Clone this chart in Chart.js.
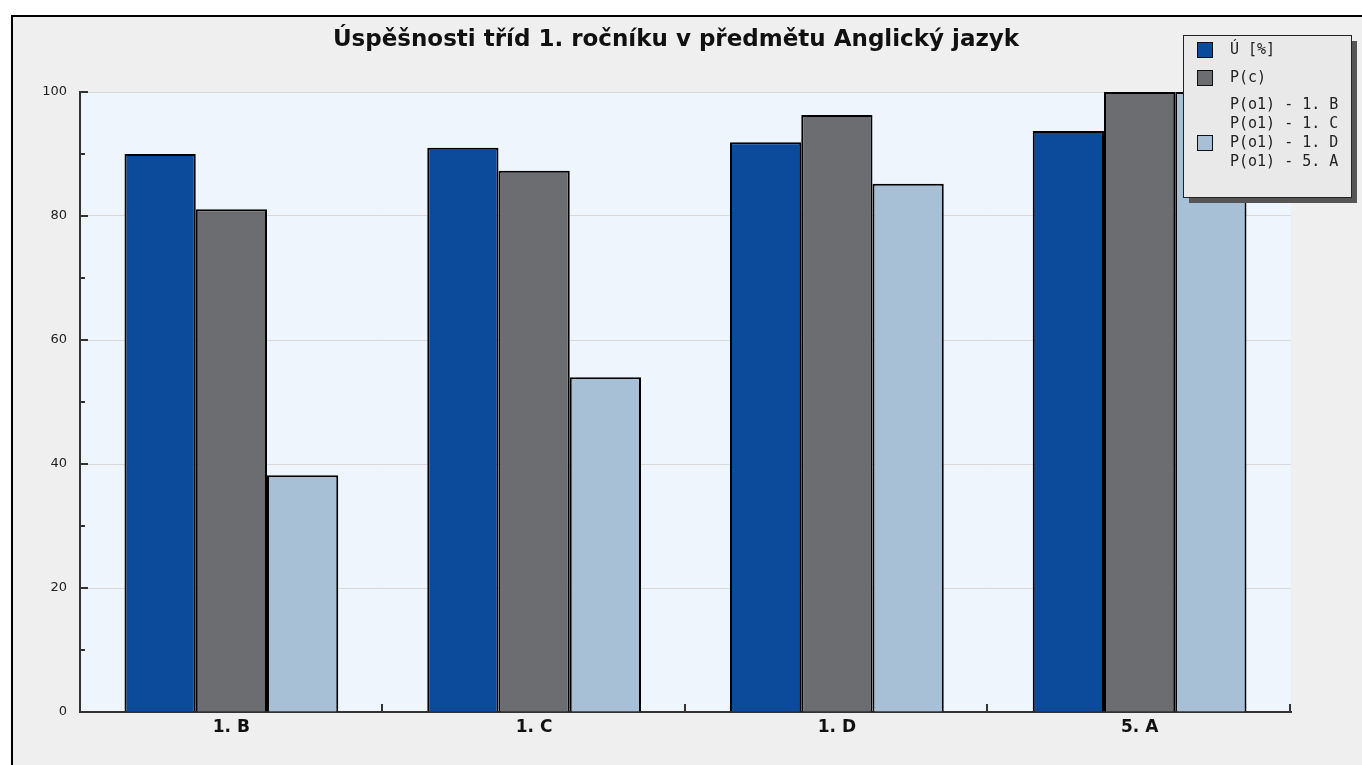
<!DOCTYPE html>
<html>
<head>
<meta charset="utf-8">
<script src="https://cdn.jsdelivr.net/npm/chart.js@4/dist/chart.umd.min.js"></script>
<style>
  body { margin: 0; background: #fff; }
  #frame {
    position: absolute; left: 11px; top: 15px;
    width: 1349px; height: 748px;
    border-left: 2px solid #000; border-top: 2px solid #000;
    background: #efefef;
  }
  canvas { display: block; }
</style>
</head>
<body>
<div id="frame"><canvas id="chart" width="1349" height="748"></canvas></div>
<script>
'use strict';

// ***** DATA *****
let chartTitle = 'Úspěšnosti tříd 1. ročníku v předmětu Anglický jazyk';
let classNames = ['1. B', '1. C', '1. D', '5. A'];
let successValues = [90.0, 91.0, 91.9, 93.7];   // Ú [%]
let pcValues = [81.1, 87.3, 96.3, 100];         // P(c)
let po1Values = [38.2, 54.0, 85.2, 100];        // P(o1)
let po1Lines = ['P(o1) - 1. B', 'P(o1) - 1. C', 'P(o1) - 1. D', 'P(o1) - 5. A'];
let yTicks = [0, 20, 40, 60, 80, 100];
let yMinorTicks = [10, 30, 50, 70, 90];

let canvasElem = document.getElementById('chart');

// ***** PLUGIN: plot background, title, inner tick marks, legend box *****
let extrasPlugin = {
  id: 'extras',
  beforeDraw(chart) {
    let a = chart.chartArea;
    let ctx = chart.ctx;
    ctx.save();
    ctx.fillStyle = '#eef5fd';
    ctx.fillRect(a.left, a.top, a.right - a.left, a.bottom - a.top);
    ctx.restore();
  },
  afterDatasetsDraw(chart) {
    let a = chart.chartArea;
    let ctx = chart.ctx;
    let y = chart.scales.y;
    ctx.save();
    ctx.strokeStyle = '#333';
    ctx.lineWidth = 2;
    // y ticks drawn inward
    yTicks.forEach(v => {
      let py = Math.round(y.getPixelForValue(v));
      ctx.beginPath(); ctx.moveTo(a.left, py); ctx.lineTo(a.left + 8, py); ctx.stroke();
    });
    yMinorTicks.forEach(v => {
      let py = Math.round(y.getPixelForValue(v));
      ctx.beginPath(); ctx.moveTo(a.left, py); ctx.lineTo(a.left + 5, py); ctx.stroke();
    });
    // x ticks at category boundaries, inward
    let step = (a.right - a.left) / classNames.length;
    for (let i = 1; i <= classNames.length; i++) {
      let px = Math.round(a.left + step * i) - 1;
      ctx.beginPath(); ctx.moveTo(px, a.bottom); ctx.lineTo(px, a.bottom - 8); ctx.stroke();
    }
    ctx.restore();
  },
  afterDraw(chart) {
    let ctx = chart.ctx;
    let ds = chart.data.datasets;
    ctx.save();
    // title
    ctx.fillStyle = '#111';
    ctx.font = 'bold 23px "DejaVu Sans"';
    ctx.textAlign = 'center';
    ctx.textBaseline = 'middle';
    ctx.fillText(chartTitle, 663, 23);

    // legend box with shadow
    let bx = 1170, by = 18, bw = 168, bh = 162;
    ctx.fillStyle = '#555';
    ctx.fillRect(bx + 6, by + 6, bw, bh);
    ctx.fillStyle = '#e9e9e9';
    ctx.fillRect(bx, by, bw, bh);
    ctx.strokeStyle = '#222';
    ctx.lineWidth = 1;
    ctx.strokeRect(bx + 0.5, by + 0.5, bw, bh);

    ctx.font = '15px "DejaVu Sans Mono"';
    ctx.textAlign = 'left';
    let rows = [
      { color: ds[0].backgroundColor, lines: [ds[0].label], y: 33 },
      { color: ds[1].backgroundColor, lines: [ds[1].label], y: 61 },
      { color: ds[2].backgroundColor, lines: po1Lines, y: 88, swatchLine: 2 }
    ];
    rows.forEach(r => {
      let swY = r.y + (r.swatchLine || 0) * 19;
      ctx.fillStyle = r.color;
      ctx.fillRect(bx + 14, swY - 8, 15, 15);
      ctx.strokeStyle = '#111';
      ctx.strokeRect(bx + 14.5, swY - 7.5, 15, 15);
      ctx.fillStyle = '#222';
      r.lines.forEach((t, i) => ctx.fillText(t, bx + 47, r.y + i * 19));
    });
    ctx.restore();
  }
};

// ***** CHART *****
let chartObj = {
  type: 'bar',
  data: {
    labels: classNames,
    datasets: [{
      label: 'Ú [%]',
      data: successValues,
      backgroundColor: '#0c4b9c',
      borderColor: '#000',
      borderWidth: 2
    },
    {
      label: 'P(c)',
      data: pcValues,
      backgroundColor: '#6c6d71',
      borderColor: '#000',
      borderWidth: 2
    },
    {
      label: 'P(o1)',
      data: po1Values,
      backgroundColor: '#a7c0d5',
      borderColor: '#000',
      borderWidth: 2
    }]
  },
  options: {
    responsive: false,
    animation: false,
    events: [],
    categoryPercentage: 0.706,
    barPercentage: 1,
    layout: { padding: { left: 0, right: 71, top: 75, bottom: 0 } },
    plugins: {
      legend: { display: false },
      title: { display: false },
      tooltip: { enabled: false }
    },
    scales: {
      x: {
        grid: { display: false, drawTicks: false },
        border: { color: '#333', width: 2 },
        ticks: {
          color: '#111',
          font: { family: 'DejaVu Sans', size: 17, weight: 'bold' },
          padding: 5
        },
        afterFit(scale) { scale.height = 53; }
      },
      y: {
        min: 0,
        max: 100,
        afterBuildTicks(scale) { scale.ticks = yTicks.map(v => ({ value: v })); },
        grid: { color: '#d9d9d9', drawTicks: false, lineWidth: 1 },
        border: { color: '#333', width: 2 },
        ticks: {
          color: '#222',
          font: { family: 'DejaVu Sans', size: 13 },
          padding: 13
        },
        afterFit(scale) { scale.width = 67; }
      }
    }
  },
  plugins: [extrasPlugin]
};

new Chart(canvasElem, chartObj);
</script>
</body>
</html>
